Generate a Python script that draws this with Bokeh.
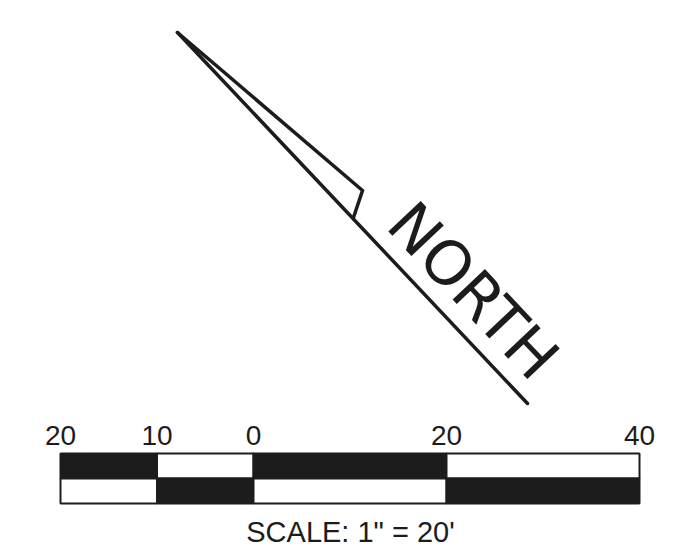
import math
from bokeh.plotting import figure
from bokeh.layouts import column
from bokeh.models import Range1d
from bokeh.core.properties import value
from bokeh.embed import file_html
from bokeh.resources import INLINE

# ---- data ----
# north arrow geometry (picture pixel units)
shaft_x = [177, 527]
shaft_y = [32, 403]
barb_x = [177, 362, 353]
barb_y = [32, 190, 217]
north_label = "NORTH"
north_anchor_x = [473]
north_anchor_y = [290]

# scale bar (feet)
bar_edges = [-20, -10, 0, 20, 40]
top_row_dark = [True, False, True, False]
bottom_row_dark = [False, True, False, True]
tick_feet = [-20, -10, 0, 20, 40]
tick_labels = ["20", "10", "0", "20", "40"]
scale_text = "SCALE: 1\" = 20'"

PX_PER_FT = 9.65
ZERO_PX = 253.0
INK = "#1c1c1c"

W = 682
H1 = 410
H2 = 142


def base_fig(h, xr, yr):
    p = figure(width=W, height=h, x_range=xr, y_range=yr,
               output_backend="svg", toolbar_location=None,
               x_axis_location=None, y_axis_location=None,
               min_border=0, min_border_left=0, min_border_right=0,
               min_border_top=0, min_border_bottom=0)
    p.grid.visible = False
    p.outline_line_color = None
    p.background_fill_color = "white"
    p.border_fill_color = "white"
    return p


# ---- arrow figure ----
p1 = base_fig(H1, Range1d(0, W), Range1d(H1, 0))
p1.line(shaft_x, shaft_y, line_color=INK, line_width=3.5, line_cap="round")
p1.line(barb_x, barb_y, line_color=INK, line_width=3.5, line_join="miter", line_cap="round")

ang = -math.atan2(shaft_y[1] - shaft_y[0], shaft_x[1] - shaft_x[0])
p1.text(x=north_anchor_x, y=north_anchor_y, text=[north_label], angle=ang,
        text_font=value("DejaVu Sans"), text_font_size="61px",
        text_color=INK, text_align="center", text_baseline="middle")

# ---- scale bar figure ----
x0 = (0 - ZERO_PX) / PX_PER_FT
x1 = (W - ZERO_PX) / PX_PER_FT
p2 = base_fig(H2, Range1d(x0, x1), Range1d(H1 + H2, H1))

lefts = bar_edges[:-1]
rights = bar_edges[1:]
top_fill = [INK if d else "white" for d in top_row_dark]
bot_fill = [INK if d else "white" for d in bottom_row_dark]

p2.quad(left=lefts, right=rights, top=[453] * 4, bottom=[478] * 4,
        fill_color=top_fill, line_color=INK, line_width=2)
p2.quad(left=lefts, right=rights, top=[478] * 4, bottom=[503] * 4,
        fill_color=bot_fill, line_color=INK, line_width=2)

p2.text(x=tick_feet, y=[435] * len(tick_feet), text=tick_labels,
        text_font=value("Liberation Sans"), text_font_size="28px",
        text_color=INK, text_align="center", text_baseline="middle")

p2.text(x=[(350 - ZERO_PX) / PX_PER_FT], y=[531], text=[scale_text],
        text_font=value("Liberation Sans"), text_font_size="29px",
        text_color=INK, text_align="center", text_baseline="middle")

layout = column(p1, p2, spacing=0)
open("out.html", "w").write(file_html(layout, INLINE))
